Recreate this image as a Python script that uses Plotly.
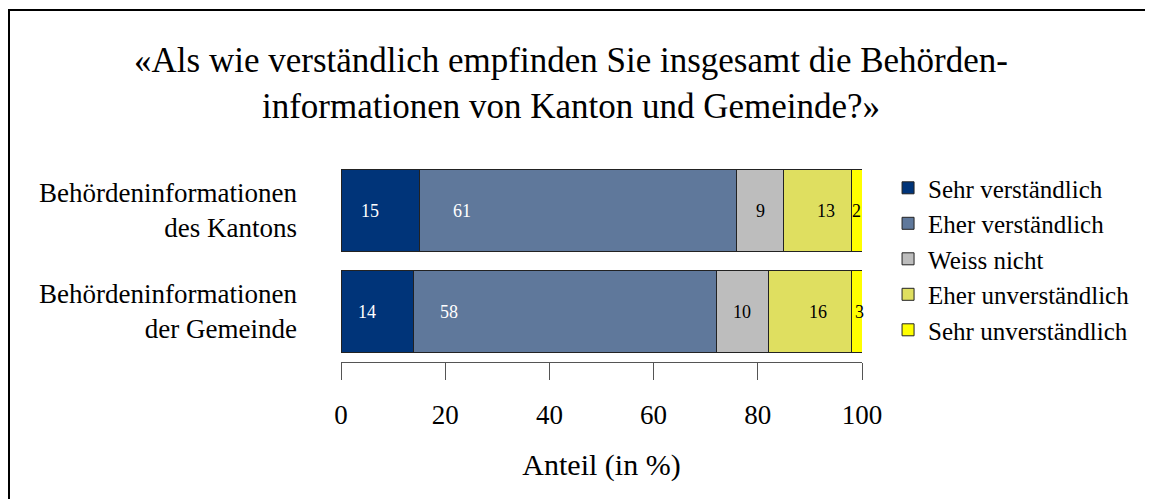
import plotly.graph_objects as go

categories = ["Behördeninformationen<br>des Kantons", "Behördeninformationen<br>der Gemeinde"]
series_names = ["Sehr verständlich", "Eher verständlich", "Weiss nicht",
                "Eher unverständlich", "Sehr unverständlich"]
sehr_verst = [15, 14]
eher_verst = [61, 58]
weiss_nicht = [9, 10]
eher_unverst = [13, 16]
sehr_unverst = [2, 3]
x_ticks = [0, 20, 40, 60, 80, 100]

values = [sehr_verst, eher_verst, weiss_nicht, eher_unverst, sehr_unverst]
colors = ["#003479", "#5f789b", "#bdbdbd", "#dfdf60", "#ffff00"]
text_colors = ["white", "white", "black", "black", "black"]
label_shift = [-10, -116, 0, 8, 0]

FONT = "Liberation Serif"

W, H = 1145, 491
L, R, T, B = 333, 291, 152, 137
PW, PH = W - L - R, H - T - B

fig = go.Figure()
for name, vals, col in zip(series_names, values, colors):
    fig.add_trace(go.Bar(
        name=name, y=categories, x=vals, orientation="h",
        marker=dict(color=col, line=dict(color="#222222", width=1)),
        hoverinfo="x+name",
    ))

# value labels derived from the data
annotations = []
for i, cat in enumerate(categories):
    cum = 0
    for j, vals in enumerate(values):
        v = vals[i]
        annotations.append(dict(
            x=cum + v / 2, y=cat, xref="x", yref="y", text=str(v),
            showarrow=False, xshift=label_shift[j],
            font=dict(family=FONT, size=18, color=text_colors[j]),
        ))
        cum += v

fig.update_layout(
    width=W, height=H,
    font=dict(family=FONT, color="black"),
    margin=dict(l=L, r=R, t=T, b=B, autoexpand=False),
    paper_bgcolor="white", plot_bgcolor="white",
    barmode="stack", bargap=0.19,
    title=dict(
        text="«Als wie verständlich empfinden Sie insgesamt die Behörden-<br>informationen von Kanton und Gemeinde?»",
        x=563 / W, xanchor="center", y=1 - 64 / H, yanchor="middle",
        xref="container", yref="container",
        font=dict(family=FONT, size=35, color="black"),
    ),
    showlegend=True,
    legend=dict(
        x=1.05, xanchor="left", y=0.975, yanchor="top",
        font=dict(family=FONT, size=25, color="black"),
        traceorder="normal", itemwidth=30, tracegroupgap=0,
        bgcolor="rgba(0,0,0,0)",
    ),
    xaxis=dict(
        range=[0, 100], tickvals=x_ticks, showgrid=False, zeroline=False,
        showline=True, linecolor="#555555", linewidth=1,
        ticks="outside", ticklen=17, tickcolor="#555555", tickwidth=1,
        ticklabelstandoff=12,
        tickfont=dict(family=FONT, size=27, color="black"),
        title=dict(text="Anteil (in %)", font=dict(family=FONT, size=30, color="black"),
                   standoff=24),
        fixedrange=True,
    ),
    yaxis=dict(
        autorange="reversed", showgrid=False, zeroline=False, showline=False,
        ticks="", ticklabelstandoff=43,
        tickfont=dict(family=FONT, size=27, color="black"),
        fixedrange=True,
    ),
    annotations=annotations,
    shapes=[
        dict(type="line", xref="paper", yref="paper",
             x0=(0 - L) / PW, x1=(W - L) / PW + 0.02,
             y0=(H - B - 2) / PH, y1=(H - B - 2) / PH,
             line=dict(color="black", width=2)),
        dict(type="line", xref="paper", yref="paper",
             x0=(1 - L) / PW, x1=(1 - L) / PW,
             y0=(H - B - 2) / PH, y1=-B / PH - 0.05,
             line=dict(color="black", width=2)),
    ],
)

fig.write_html("out.html")
